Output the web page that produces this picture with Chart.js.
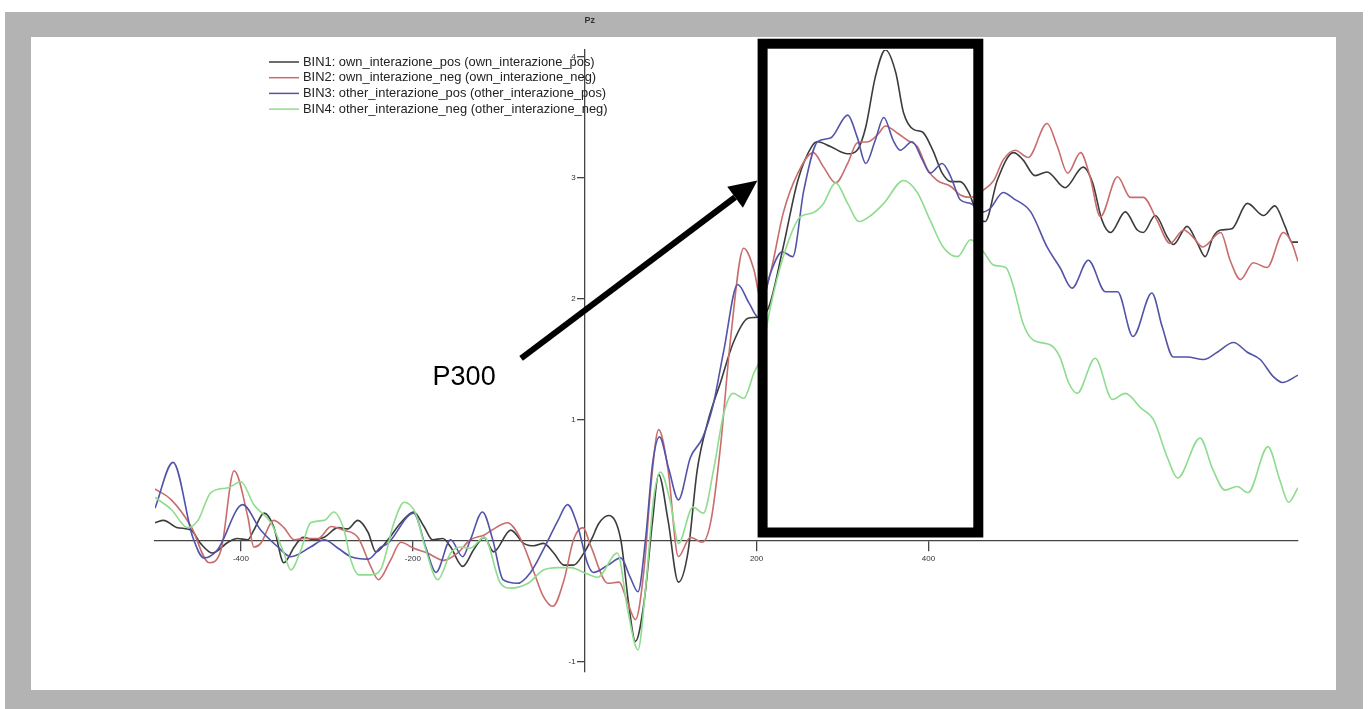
<!DOCTYPE html>
<html>
<head>
<meta charset="utf-8">
<title>Pz</title>
<script src="https://cdn.jsdelivr.net/npm/chart.js"></script>
<style>
  html, body { margin: 0; padding: 0; background: #fff; }
  #wrap { width: 1368px; height: 709px; position: relative; }
</style>
</head>
<body>
<div id="wrap"><canvas id="erp"></canvas></div>
<script>
// ERP at Pz, amplitude (uV) against time (ms)
const binLabels = [
  'BIN1: own_interazione_pos (own_interazione_pos)',
  'BIN2: own_interazione_neg (own_interazione_neg)',
  'BIN3: other_interazione_pos (other_interazione_pos)',
  'BIN4: other_interazione_neg (other_interazione_neg)'
]
const binColors = ['#3c3c3c', '#c96c6c', '#5353a8', '#8edc8e']

const bin1Time = [-500,-490,-474,-458,-447,-433,-415,-404,-392,-385,-373,-362,-350,-338,-328,-315,-303,-287,-276,-264,-252,-243,-229,-214,-199,-187,-177,-165,-156,-142,-129,-117,-106,-86,-71,-59,-48,-36,-24,-13,-1,9,16,28,42,51,59,69,79,86,97,109,120,131,143,158,173,190,201,214,231,248,265,271,286,306,317,327,338,350,362,371,383,393,405,416,426,437,447,458,466,480,499,510,524,538,559,580,591,602,612,629,643,650,664,678,685,701,713,722,731,740,753,771,790,803,815,823,830]
const bin1Amp = [0.15,0.17,0.11,0.09,-0.02,-0.10,-0.01,0.02,0.01,0.09,0.23,0.12,-0.18,-0.05,0.03,0.01,0.03,0.11,0.10,0.17,0.07,-0.09,0.01,0.15,0.24,0.12,0.01,0.02,-0.05,-0.21,-0.07,0.03,-0.09,0.09,-0.02,-0.04,-0.02,-0.10,-0.20,-0.20,-0.10,0.03,0.14,0.21,0.01,-0.51,-0.83,-0.51,0.17,0.55,0.17,-0.34,-0.10,0.59,0.98,1.31,1.64,1.84,1.85,1.93,2.43,2.98,3.27,3.30,3.26,3.20,3.23,3.42,3.83,4.06,3.87,3.54,3.40,3.38,3.23,3.04,2.97,2.97,2.88,2.68,2.64,2.98,3.21,3.15,3.02,3.05,2.92,3.09,2.96,2.65,2.55,2.72,2.57,2.55,2.69,2.51,2.45,2.60,2.46,2.35,2.51,2.57,2.58,2.79,2.69,2.77,2.60,2.47,2.47]

const bin2Time = [-500,-481,-458,-437,-423,-408,-392,-385,-377,-362,-350,-338,-327,-310,-295,-281,-264,-249,-240,-226,-214,-199,-183,-164,-148,-133,-117,-101,-90,-74,-59,-48,-37,-24,-13,-2,7,27,40,50,59,69,77,86,97,109,123,137,147,158,170,185,197,205,216,231,248,266,278,292,306,317,330,341,350,364,376,387,399,410,426,437,449,464,476,487,501,516,538,550,562,577,588,600,620,635,650,666,681,697,708,719,740,751,763,778,794,813,823,830]
const bin2Amp = [0.43,0.34,0.12,-0.18,-0.07,0.58,0.20,-0.05,-0.02,0.17,0.11,0.01,0.02,0.02,0.12,0.09,0.03,-0.21,-0.32,-0.16,-0.01,-0.06,-0.10,-0.16,-0.10,0.01,0.05,0.12,0.15,0.01,-0.26,-0.46,-0.54,-0.32,0.01,0.11,-0.04,-0.35,-0.34,-0.51,-0.65,-0.24,0.45,0.92,0.59,-0.13,0.03,-0.01,0.17,0.78,1.69,2.42,2.24,1.99,2.21,2.71,3.04,3.21,3.09,2.96,3.12,3.29,3.30,3.36,3.43,3.37,3.31,3.26,3.07,2.98,2.93,2.86,2.84,2.90,2.98,3.15,3.23,3.17,3.45,3.26,3.04,3.21,3.01,2.68,3.01,2.84,2.84,2.65,2.46,2.57,2.51,2.43,2.55,2.32,2.16,2.30,2.26,2.55,2.46,2.31]

const bin3Time = [-500,-479,-456,-443,-427,-398,-377,-357,-342,-319,-303,-287,-272,-252,-237,-229,-199,-185,-173,-156,-142,-133,-119,-107,-95,-78,-63,-48,-31,-20,-8,3,10,27,42,53,62,71,79,87,98,109,123,137,149,162,178,191,202,216,230,242,255,271,286,306,317,327,338,348,359,367,381,393,402,416,426,437,449,464,472,487,499,519,538,553,567,586,606,620,638,660,672,685,701,720,736,755,771,786,801,812,830]
const bin3Amp = [0.27,0.65,0.03,-0.14,-0.07,0.30,0.09,-0.05,-0.13,-0.05,0.01,-0.06,-0.13,-0.15,-0.05,-0.02,0.23,-0.05,-0.26,0.01,-0.13,0.01,0.24,0.01,-0.32,-0.35,-0.26,-0.07,0.17,0.30,0.12,-0.18,-0.26,-0.20,-0.14,-0.30,-0.42,0.03,0.64,0.86,0.59,0.34,0.69,0.85,1.11,1.58,2.12,1.97,1.85,2.21,2.39,2.35,2.90,3.30,3.33,3.52,3.34,3.12,3.31,3.50,3.31,3.23,3.30,3.15,3.04,3.12,3.01,2.82,2.79,2.72,2.75,2.88,2.83,2.72,2.43,2.26,2.09,2.32,2.06,2.06,1.69,2.05,1.77,1.52,1.52,1.50,1.56,1.64,1.56,1.50,1.36,1.31,1.37]

const bin4Time = [-500,-481,-462,-450,-435,-415,-400,-385,-365,-350,-342,-330,-319,-303,-292,-280,-272,-263,-249,-237,-222,-210,-197,-185,-171,-156,-144,-133,-117,-98,-86,-66,-48,-31,-16,-1,15,38,50,62,71,80,88,100,109,126,138,150,162,173,185,197,205,216,231,251,265,277,292,306,319,333,348,371,387,402,417,434,449,464,476,490,499,510,522,542,553,563,573,594,614,629,647,662,678,690,716,731,745,759,772,795,809,819,830]
const bin4Amp = [0.36,0.26,0.11,0.17,0.40,0.44,0.49,0.30,0.15,-0.10,-0.24,-0.07,0.15,0.17,0.24,0.09,-0.16,-0.28,-0.28,-0.23,0.15,0.32,0.23,-0.07,-0.32,-0.10,-0.05,-0.06,0.03,-0.35,-0.39,-0.35,-0.24,-0.22,-0.22,-0.26,-0.30,-0.10,-0.57,-0.90,-0.38,0.34,0.57,0.31,-0.02,0.28,0.23,0.59,1.06,1.22,1.18,1.39,1.52,1.93,2.35,2.68,2.71,2.78,2.96,2.79,2.64,2.69,2.79,2.98,2.88,2.65,2.43,2.35,2.49,2.39,2.28,2.26,2.10,1.80,1.66,1.62,1.52,1.31,1.22,1.51,1.17,1.22,1.10,1.00,0.69,0.52,0.85,0.59,0.42,0.45,0.40,0.78,0.50,0.32,0.44]

const xTicks = [-400, -200, 200, 400]
const yTicks = [-1, 1, 2, 3, 4]

// annotation, in data units (ms, uV)
const boxMs = [207, 458]
const boxUv = [0.07, 4.11]
const arrowFrom = [-74, 1.51]
const arrowTo = [201, 2.98]
const p300At = [-177, 1.35]

function pts(t, v) { return t.map((x, i) => ({ x: x, y: v[i] })) }

const series = [
  pts(bin1Time, bin1Amp),
  pts(bin2Time, bin2Amp),
  pts(bin3Time, bin3Amp),
  pts(bin4Time, bin4Amp)
]

const tickFont = '8px "Liberation Sans", Arial, sans-serif'

const framePlugin = {
  id: 'frame',
  beforeDraw(chart) {
    const c = chart.ctx
    c.save()
    c.fillStyle = '#ffffff'
    c.fillRect(0, 0, chart.width, chart.height)
    c.fillStyle = '#b3b3b3'
    c.fillRect(5, 12, 1358, 697)
    c.fillStyle = '#ffffff'
    c.fillRect(31, 37, 1305, 653)
    c.fillStyle = '#333'
    c.font = 'bold 9px "Liberation Sans", Arial, sans-serif'
    c.textAlign = 'center'
    c.textBaseline = 'middle'
    c.fillText('Pz', chart.scales.x.getPixelForValue(6), 21)
    c.restore()
  },
  afterDatasetsDraw(chart) {
    const c = chart.ctx
    const x = chart.scales.x, y = chart.scales.y
    c.save()
    // y tick labels, to the left of the tick marks
    const axisX = x.getPixelForValue(0)
    c.fillStyle = '#333'
    c.font = tickFont
    c.textAlign = 'right'
    c.textBaseline = 'middle'
    y.ticks.forEach(t => c.fillText(String(t.value), axisX - 9, y.getPixelForValue(t.value)))
    // P300 window
    c.strokeStyle = '#000'
    c.lineWidth = 10
    const bx0 = x.getPixelForValue(boxMs[0]), bx1 = x.getPixelForValue(boxMs[1])
    const by0 = y.getPixelForValue(boxUv[1]), by1 = y.getPixelForValue(boxUv[0])
    c.strokeRect(bx0, by0, bx1 - bx0, by1 - by0)
    // arrow
    const ax0 = x.getPixelForValue(arrowFrom[0]), ay0 = y.getPixelForValue(arrowFrom[1])
    const ax1 = x.getPixelForValue(arrowTo[0]), ay1 = y.getPixelForValue(arrowTo[1])
    const ang = Math.atan2(ay1 - ay0, ax1 - ax0)
    const headLen = 28, headHalf = 13
    const hx = ax1 - headLen * Math.cos(ang), hy = ay1 - headLen * Math.sin(ang)
    c.lineWidth = 6
    c.beginPath()
    c.moveTo(ax0, ay0)
    c.lineTo(hx, hy)
    c.stroke()
    c.fillStyle = '#000'
    c.beginPath()
    c.moveTo(ax1, ay1)
    c.lineTo(hx + headHalf * Math.sin(ang), hy - headHalf * Math.cos(ang))
    c.lineTo(hx - headHalf * Math.sin(ang), hy + headHalf * Math.cos(ang))
    c.closePath()
    c.fill()
    c.font = '27px "Liberation Sans", Arial, sans-serif'
    c.textAlign = 'left'
    c.fillText('P300', x.getPixelForValue(p300At[0]), y.getPixelForValue(p300At[1]))
    c.restore()
  },
  afterDraw(chart) {
    // legend, upper left
    const c = chart.ctx
    c.save()
    c.font = '12.9px "Liberation Sans", Arial, sans-serif'
    c.textBaseline = 'middle'
    c.textAlign = 'left'
    chart.data.datasets.forEach((ds, i) => {
      const ly = 62 + i * 15.7
      c.strokeStyle = ds.borderColor
      c.lineWidth = 1.5
      c.beginPath()
      c.moveTo(269, ly)
      c.lineTo(299, ly)
      c.stroke()
      c.fillStyle = '#222'
      c.fillText(ds.label, 303, ly)
    })
    c.restore()
  }
}

const ctx = document.getElementById('erp')

new Chart(ctx, {
  type: 'line',
  data: {
    datasets: series.map((d, i) => ({
      label: binLabels[i],
      data: d,
      borderColor: binColors[i],
      borderWidth: 1.6,
      pointRadius: 0,
      fill: false,
      cubicInterpolationMode: 'monotone',
      order: 3 - i
    }))
  },
  options: {
    responsive: true,
    maintainAspectRatio: false,
    animation: false,
    devicePixelRatio: 1,
    layout: { padding: { left: 155, right: 70, top: 50, bottom: 37 } },
    plugins: {
      legend: { display: false },
      tooltip: { enabled: false },
      title: { display: false }
    },
    scales: {
      x: {
        type: 'linear',
        position: { y: 0 },
        min: -500,
        max: 830,
        afterBuildTicks: s => { s.ticks = xTicks.map(v => ({ value: v })) },
        grid: { drawOnChartArea: false, drawTicks: true, tickLength: 10, color: '#444', lineWidth: 1.3 },
        border: { display: true, color: '#444', width: 1.3 },
        ticks: { color: '#333', font: { size: 8, family: '"Liberation Sans", Arial, sans-serif' }, padding: 3, maxRotation: 0, callback: v => String(v) }
      },
      y: {
        type: 'linear',
        position: { x: 0 },
        min: -1.083,
        max: 4.058,
        afterBuildTicks: s => { s.ticks = yTicks.map(v => ({ value: v })) },
        grid: { drawOnChartArea: false, drawTicks: true, tickLength: 7, color: '#444', lineWidth: 1.3 },
        border: { display: true, color: '#444', width: 1.3 },
        ticks: { display: false }
      }
    }
  },
  plugins: [framePlugin]
})
</script>
</body>
</html>
